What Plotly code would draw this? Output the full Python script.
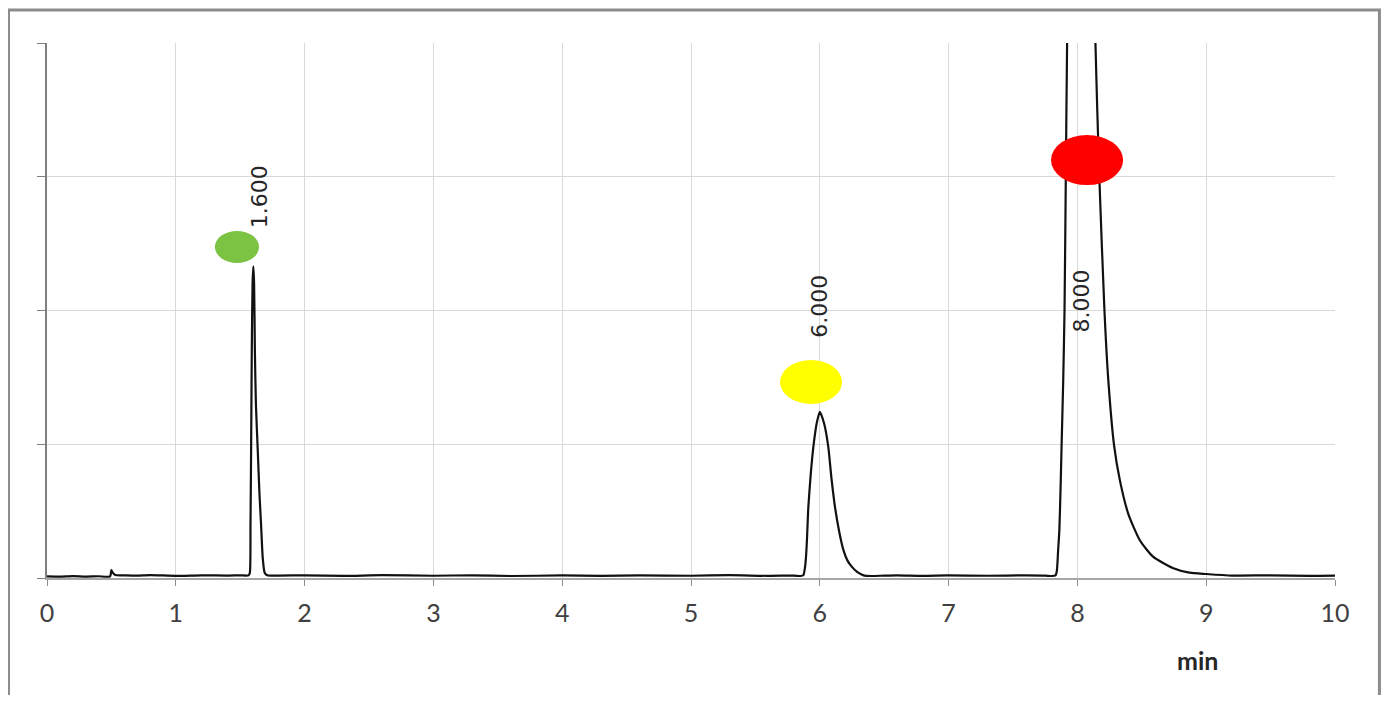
import plotly.graph_objects as go

# ---- data ----
time_min = [0.00, 0.10, 0.20, 0.30, 0.40, 0.49, 0.50, 0.51, 0.53, 0.60, 0.70, 0.80, 1.00, 1.20, 1.40, 1.50,
            1.565, 1.575, 1.580, 1.585, 1.590, 1.596, 1.602, 1.608, 1.614, 1.622, 1.636, 1.650, 1.662, 1.675,
            1.690, 1.710,
            1.80, 2.00, 2.30, 2.60, 3.00, 3.30, 3.60, 4.00, 4.30, 4.60, 5.00, 5.30, 5.60, 5.80,
            5.850, 5.872, 5.885, 5.893, 5.900, 5.911, 5.930, 5.950, 5.976, 6.000, 6.033, 6.066, 6.090, 6.118,
            6.150, 6.183, 6.215, 6.248, 6.290, 6.340, 6.400,
            6.50, 6.60, 6.80, 7.00, 7.30, 7.60, 7.75,
            7.800, 7.830, 7.840, 7.850, 7.860, 7.870, 7.877, 7.890, 7.900, 7.910, 7.920, 7.950, 8.030, 8.100,
            8.140, 8.170, 8.210, 8.240, 8.285, 8.330, 8.395, 8.486, 8.587, 8.740, 8.870,
            9.00, 9.20, 9.50, 9.80, 10.00]
signal = [0.012, 0.010, 0.014, 0.011, 0.013, 0.012, 0.060, 0.040, 0.022, 0.020, 0.018, 0.022, 0.016, 0.020, 0.018, 0.020,
          0.020, 0.040, 0.400, 1.000, 1.700, 2.200, 2.330, 2.200, 1.700, 1.300, 0.960, 0.620, 0.400, 0.150,
          0.040, 0.020,
          0.018, 0.020, 0.016, 0.021, 0.017, 0.020, 0.015, 0.019, 0.016, 0.020, 0.017, 0.021, 0.016, 0.018,
          0.015, 0.020, 0.080, 0.160, 0.280, 0.530, 0.780, 0.980, 1.157, 1.243, 1.157, 0.980, 0.750, 0.530,
          0.350, 0.210, 0.130, 0.085, 0.045, 0.020, 0.015,
          0.018, 0.020, 0.016, 0.019, 0.017, 0.020, 0.018,
          0.015, 0.020, 0.050, 0.200, 0.360, 0.700, 0.980, 1.480, 2.000, 3.000, 4.000, 6.000, 7.500, 6.000,
          4.000, 3.000, 2.000, 1.480, 0.990, 0.730, 0.480, 0.280, 0.160, 0.075, 0.040,
          0.030, 0.018, 0.020, 0.016, 0.018]

x_ticks = [0, 1, 2, 3, 4, 5, 6, 7, 8, 9, 10]
y_grid = [0, 1, 2, 3, 4]

peak_labels = ["1.600", "6.000", "8.000"]
label_x = [1.65, 6.0, 8.03]
label_y = [2.85, 2.034, 2.07]

marker_x = [1.475, 5.932, 8.075]
marker_y = [2.475, 1.465, 3.125]
marker_colors = ["#7cc243", "#ffff00", "#ff0000"]
# ellipse half sizes (x units, y units)
marker_half_w = [0.171, 0.241, 0.280]
marker_half_h = [0.120, 0.164, 0.187]

fig = go.Figure()
fig.add_trace(go.Scatter(x=time_min, y=signal, mode="lines",
                         line=dict(color="#111111", width=2.2, shape="spline", smoothing=0.6),
                         showlegend=False, hoverinfo="skip"))

for lab, lx, ly in zip(peak_labels, label_x, label_y):
    fig.add_annotation(x=lx, y=ly, text=lab, textangle=-90, showarrow=False,
                       font=dict(family="DejaVu Sans", size=22, color="#262626"))

for cx, cy, col, hw, hh in zip(marker_x, marker_y, marker_colors, marker_half_w, marker_half_h):
    fig.add_shape(type="circle", xref="x", yref="y", x0=cx - hw, x1=cx + hw, y0=cy - hh, y1=cy + hh,
                  fillcolor=col, line=dict(width=0), layer="above")

# outer frame (page has 8px body margin; figure 1373x687 -> plot area 1288x535)
fig.add_shape(type="rect", xref="paper", yref="paper", x0=-0.0299, x1=1.0345, y0=-0.40, y1=1.0617,
              line=dict(color="#8c8c8c", width=3), fillcolor="rgba(0,0,0,0)", layer="below")

fig.add_annotation(x=8.93, y=-0.153, xref="x", yref="paper", yanchor="middle", text="<b>min</b>",
                   showarrow=False, font=dict(family="Lato", size=25, color="#262626"))

fig.update_layout(
    width=1373, height=687,
    margin=dict(l=39, r=46, t=35, b=117),
    plot_bgcolor="white", paper_bgcolor="white",
    xaxis=dict(range=[0, 10], tickmode="array", tickvals=x_ticks, ticktext=[str(t) for t in x_ticks],
               showgrid=True, gridcolor="#d9d9d9", gridwidth=1, zeroline=False,
               showline=True, linecolor="#a6a6a6", linewidth=1.5,
               ticks="outside", ticklen=6, tickcolor="#8c8c8c", ticklabelstandoff=6,
               tickfont=dict(family="Lato", size=25, color="#404040")),
    yaxis=dict(range=[0, 4], tickmode="array", tickvals=y_grid, showticklabels=False,
               showgrid=True, gridcolor="#d9d9d9", gridwidth=1, zeroline=False,
               showline=True, linecolor="#7f7f7f", linewidth=1.5,
               ticks="outside", ticklen=8, tickcolor="#7f7f7f"),
)

fig.write_html("out.html")
